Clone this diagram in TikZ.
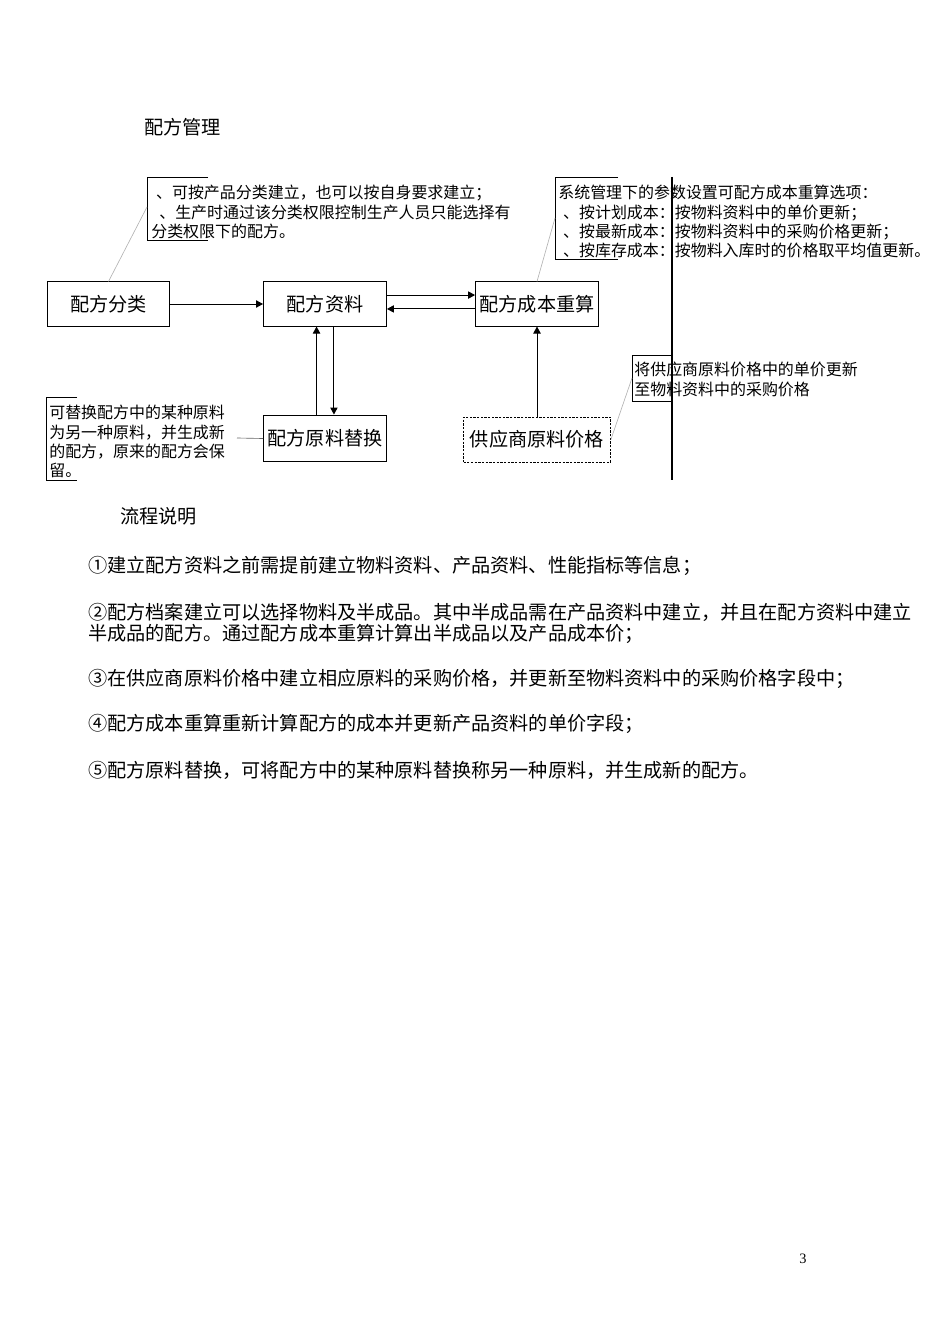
\documentclass[tikz,border=0pt]{standalone}
\usepackage{fontspec}
\setmainfont{Liberation Serif}
\newfontfamily\cjk{Noto Sans CJK SC}
\usetikzlibrary{arrows.meta}
\tikzset{
block/.style={rectangle, minimum width=77pt, minimum height=27.6pt, inner sep=0pt, text centered, draw=black, line width=0.6pt, font=\cjk\fontsize{12}{14}\selectfont},
dashblock/.style={block, minimum width=92pt, minimum height=28.2pt, dash pattern=on 1.4pt off 0.9pt},
arrow/.style={line width=0.6pt, -{Triangle[length=4.4pt, width=4.6pt]}},
leader/.style={gray!60, line width=0.4pt},
bracket/.style={black, line width=0.6pt},
note/.style={anchor=north west, inner sep=0pt, align=left, font=\cjk\fontsize{10}{12.1}\selectfont},
txt/.style={anchor=west, inner sep=0pt, font=\cjk\fontsize{12}{14}\selectfont}}

\begin{document}
\begin{tikzpicture}[x=0.6265pt, y=-0.6265pt]
\useasboundingbox (0,0) rectangle (950,1344);
\node (title) [txt] at (144,127) {配方管理};

% boxes
\node (cat) [block] at (108.5,304) {配方分类};
\node (data) [block] at (325,304) {配方资料};
\node (cost) [block] at (537,304) {配方成本重算};
\node (swap) [block, minimum height=29.4pt] at (325,438.5) {配方原料替换};
\node (supp) [dashblock] at (537,439.5) {供应商原料价格};

\draw [arrow] (cat) -- (data);
\draw [arrow] ([yshift=5.6pt]data.east) -- ([yshift=5.6pt]cost.west);
\draw [arrow] ([yshift=-3.1pt]cost.west) -- ([yshift=-3.1pt]data.east);
\draw [arrow] ([xshift=-5.3pt]swap.north) -- ([xshift=-5.3pt]data.south);
\draw [arrow] ([xshift=5.6pt]data.south) -- ([xshift=5.6pt]swap.north);
\draw [arrow] (supp) -- (cost);

% notes
\node (catnote) [note] at (151,185) {\hspace*{3pt}、可按产品分类建立，也可以按自身要求建立；\\\hspace*{5pt}、生产时通过该分类权限控制生产人员只能选择有\\分类权限下的配方。};
\node (costnote) [note] at (558,185) {系统管理下的参数设置可配方成本重算选项：\\\hspace*{3pt}、按计划成本：按物料资料中的单价更新；\\\hspace*{3pt}、按最新成本：按物料资料中的采购价格更新；\\\hspace*{3pt}、按库存成本：按物料入库时的价格取平均值更新。};
\node (swapnote) [note] at (49,405) {可替换配方中的某种原料\\为另一种原料，并生成新\\的配方，原来的配方会保\\留。};
\node (suppnote) [note] at (634,362) {将供应商原料价格中的单价更新\\至物料资料中的采购价格};

\draw [bracket] (208,177) -- (147,177) -- (147,240) -- (208,240);
\draw [bracket] (618,177) -- (555,177) -- (555,259) -- (618,259);
\draw [bracket] (77,397) -- (46,397) -- (46,480) -- (77,480);
\draw [bracket] (672,355) -- (632,355) -- (632,401) -- (672,401);
\draw [line width=0.8pt] (672,177) -- (672,480);

\coordinate (catpin) at (147,207);
\coordinate (costpin) at (555,218);
\coordinate (swappin) at (237,438);
\coordinate (supppin) at (632,378);
\draw [leader] (catpin) -- (cat.north);
\draw [leader] (costpin) -- (cost.north);
\draw [leader, black!60] (swappin) -- (swap.west);
\draw [leader] (supppin) -- (supp.east);

% flow text
\node (flow) [txt] at (120,516) {流程说明};
\node (s1) [txt] at (88,566) {①建立配方资料之前需提前建立物料资料、产品资料、性能指标等信息；};
\node (s2) [txt] at (88,612) {②配方档案建立可以选择物料及半成品。其中半成品需在产品资料中建立，并且在配方资料中建立};
\node (s2b) [txt] at (88,634) {半成品的配方。通过配方成本重算计算出半成品以及产品成本价；};
\node (s3) [txt] at (88,679) {③在供应商原料价格中建立相应原料的采购价格，并更新至物料资料中的采购价格字段中；};
\node (s4) [txt] at (88,724) {④配方成本重算重新计算配方的成本并更新产品资料的单价字段；};
\node (s5) [txt] at (88,770) {⑤配方原料替换，可将配方中的某种原料替换称另一种原料，并生成新的配方。};
\node (page) [inner sep=0pt, font=\fontsize{9}{10}\selectfont] at (803,1259) {3};
\end{tikzpicture}
\end{document}
